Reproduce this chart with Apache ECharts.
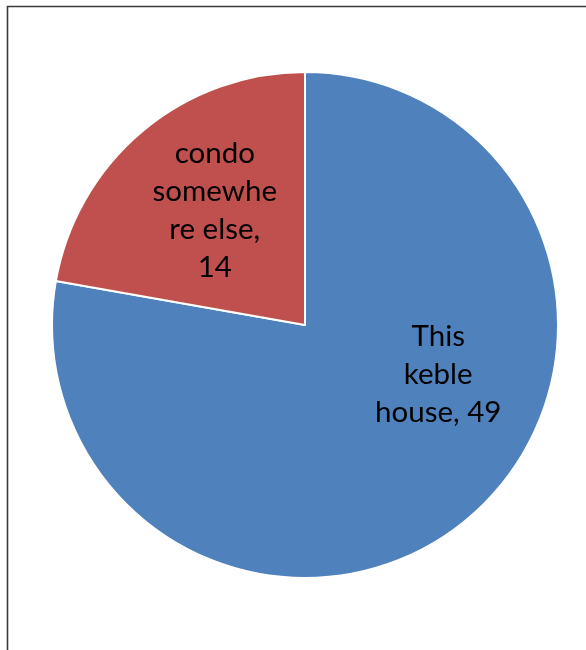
<!DOCTYPE html>
<html>
<head>
<meta charset="utf-8">
<script src="https://cdn.jsdelivr.net/npm/echarts@6/dist/echarts.min.js"></script>
<style>
  html, body { margin: 0; padding: 0; background: #fff; }
  #chart { width: 586px; height: 650px; }
</style>
</head>
<body>
<div id="chart"></div>
<script>
// Where people would rather live
const categories = ['This\nkeble\nhouse', 'condo\nsomewhe\nre else'];
const counts = [49, 14];
const sliceColors = ['#4F81BD', '#C0504D'];
// How the value is joined onto each category label
const valueJoin = [', ', ',\n'];
// Nudges for the in-slice labels
const labelShift = [[50, -50], [-7, -15]];

const chart = echarts.init(document.getElementById('chart'), null, { renderer: 'canvas' });

chart.setOption({
  backgroundColor: '#ffffff',
  animation: false,
  graphic: [{
    type: 'rect',
    shape: { x: 7.5, y: 6.5, width: 700, height: 800 },
    style: { fill: 'none', stroke: '#3a3a3a', lineWidth: 1.6 },
    silent: true,
    z: 10
  }],
  series: [{
    type: 'pie',
    center: [305, 325],
    radius: [0, 253],
    startAngle: 90,
    clockwise: true,
    itemStyle: { borderColor: '#ffffff', borderWidth: 2 },
    label: {
      show: true,
      position: 'inside',
      color: '#000',
      fontFamily: 'Lato',
      fontSize: 29.5,
      lineHeight: 38,
      align: 'center',
      formatter: p => p.name + valueJoin[p.dataIndex] + p.value
    },
    labelLine: { show: false },
    labelLayout: p => ({ dx: labelShift[p.dataIndex][0], dy: labelShift[p.dataIndex][1] }),
    emphasis: { disabled: true },
    data: categories.map((c, i) => ({
      name: c,
      value: counts[i],
      itemStyle: { color: sliceColors[i] }
    }))
  }]
});
</script>
</body>
</html>
